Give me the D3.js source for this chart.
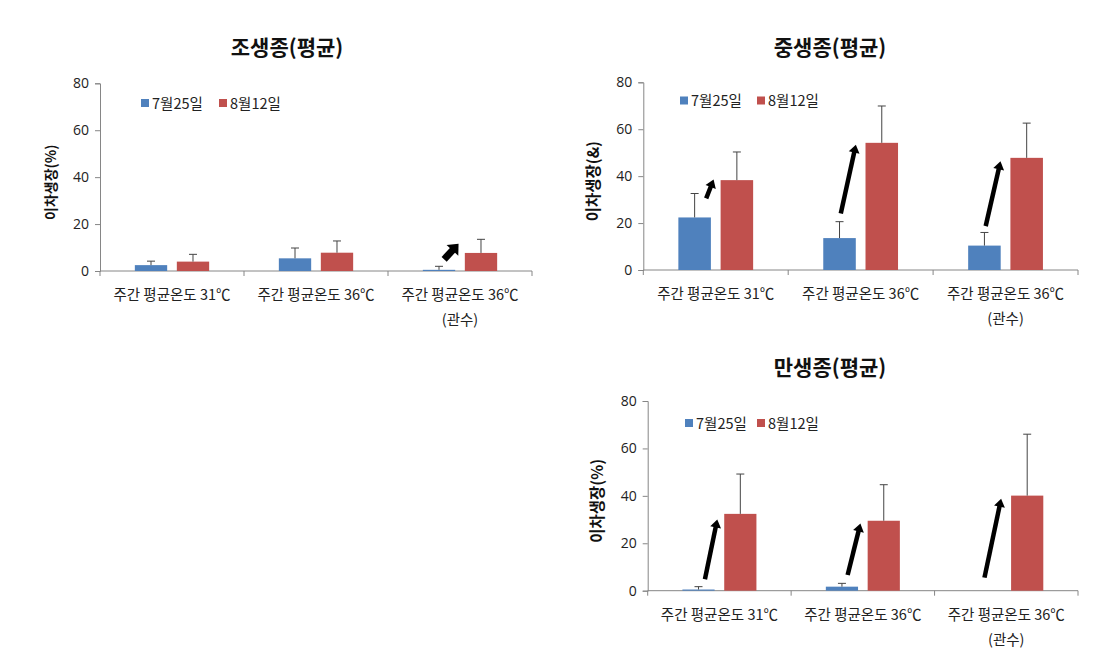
<!DOCTYPE html>
<html><head><meta charset="utf-8">
<script src="https://cdn.jsdelivr.net/npm/d3@7"></script>
<style>
html,body{margin:0;padding:0;background:#fff;}
svg{display:block;font-family:"Noto Sans CJK KR","Noto Sans",sans-serif;}
</style></head>
<body>
<svg id="chart" width="1108" height="664"></svg>
<script>
// ---- data ----
const categories = ["주간 평균온도 31℃", "주간 평균온도 36℃", "주간 평균온도 36℃|(관수)"];
const seriesNames = ["7월25일", "8월12일"];
const yTicks = [0, 20, 40, 60, 80];

const earlyJul = [2.5, 5.4, 0.5];
const earlyJulErr = [1.7, 4.4, 1.5];
const earlyAug = [4.0, 7.8, 7.7];
const earlyAugErr = [3.1, 5.0, 5.8];

const midJul = [22.4, 13.6, 10.4];
const midJulErr = [10.2, 7.0, 5.6];
const midAug = [38.3, 54.2, 47.8];
const midAugErr = [12.0, 15.7, 14.8];

const lateJul = [0.5, 1.7, 0];
const lateJulErr = [1.2, 1.4, 0];
const lateAug = [32.4, 29.5, 40.1];
const lateAugErr = [16.8, 15.2, 25.9];

// arrows: [category index, band fraction from, value from, band fraction to, value to]
const earlyArrows = [[2, 0.39, 5.0, 0.49, 11.6]];
const midArrows = [[0, 0.434, 30.5, 0.485, 38.6], [1, 0.363, 24.1, 0.467, 53.4], [2, 0.363, 18.7, 0.465, 46.3]];
const lateArrows = [[0, 0.399, 4.8, 0.485, 30.0], [1, 0.394, 6.6, 0.483, 28.3], [2, 0.348, 5.5, 0.464, 38.8]];

const colors = ["#4F81BD", "#C0504D"];

const svg = d3.select("#chart");

function drawPanel(cfg) {
  const g = svg.append("g");
  const x = d3.scaleBand().domain(categories).range([cfg.left, cfg.right]).padding(0);
  const xs = d3.scaleBand().domain(seriesNames).range([0, x.bandwidth()]).paddingInner(0.23).paddingOuter(0.83);
  const y = d3.scaleLinear().domain([0, 80]).range([cfg.bottom, cfg.top]);

  // title
  g.append("text").attr("x", cfg.titleX).attr("y", cfg.titleY)
    .attr("text-anchor", "middle").attr("font-size", 21).attr("font-weight", "bold")
    .attr("fill", "#111").text(cfg.title);

  // y axis
  const yAxis = d3.axisLeft(y).tickValues(yTicks).tickSize(5).tickPadding(6);
  const ya = g.append("g").attr("transform", `translate(${cfg.left},0)`).call(yAxis);
  ya.select(".domain").attr("stroke", "#868686");
  ya.selectAll(".tick line").attr("stroke", "#868686");
  ya.selectAll(".tick text").attr("font-size", 14).attr("fill", "#222")
    .attr("font-family", '"Open Sans","Noto Sans",sans-serif');

  // x axis
  const xa = g.append("g").attr("transform", `translate(0,${cfg.bottom})`);
  xa.append("line").attr("x1", cfg.left).attr("x2", cfg.right).attr("y1", 0).attr("y2", 0).attr("stroke", "#868686");
  const bounds = categories.map(c => x(c)).concat([cfg.right]);
  xa.selectAll("line.tk").data(bounds).join("line").attr("class", "tk")
    .attr("x1", d => d).attr("x2", d => d).attr("y1", 0).attr("y2", 5).attr("stroke", "#868686");
  categories.forEach(c => {
    const lines = c.split("|");
    const t = xa.append("text").attr("text-anchor", "middle").attr("font-size", 14.5).attr("fill", "#222");
    lines.forEach((ln, i) => {
      t.append("tspan").attr("x", x(c) + x.bandwidth() / 2).attr("y", 29 + i * 25).text(ln);
    });
  });

  // y label
  g.append("text").attr("transform", `translate(${cfg.ylabX},${(cfg.top + cfg.bottom) / 2 + 5}) rotate(-90)`)
    .attr("text-anchor", "middle").attr("font-size", cfg.ylabSize).attr("font-weight", cfg.ylabWeight)
    .attr("fill", "#111").text(cfg.ylab);

  // bars
  cfg.values.forEach((vals, si) => {
    const sn = seriesNames[si];
    g.selectAll(null).data(vals).join("rect")
      .attr("x", (d, i) => x(categories[i]) + xs(sn))
      .attr("width", xs.bandwidth())
      .attr("y", d => y(d))
      .attr("height", d => y(0) - y(d))
      .attr("fill", colors[si]);
    // error bars
    const errs = cfg.errors[si];
    vals.forEach((v, i) => {
      if (errs[i] <= 0) return;
      const cx = x(categories[i]) + xs(sn) + xs.bandwidth() / 2;
      g.append("line").attr("x1", cx).attr("x2", cx).attr("y1", y(v)).attr("y2", y(v + errs[i]))
        .attr("stroke", "#444").attr("stroke-width", 1);
      g.append("line").attr("x1", cx - 4).attr("x2", cx + 4).attr("y1", y(v + errs[i])).attr("y2", y(v + errs[i]))
        .attr("stroke", "#444").attr("stroke-width", 1);
    });
  });

  // legend
  seriesNames.forEach((sn, i) => {
    const lx = cfg.legX[i];
    g.append("rect").attr("x", lx).attr("y", cfg.legY - 4).attr("width", 8).attr("height", 8).attr("fill", colors[i]);
    g.append("text").attr("x", lx + 11).attr("y", cfg.legY + 5.5).attr("font-size", 14.5).attr("fill", "#222").text(sn);
  });

  // arrows
  cfg.arrows.forEach(a => {
    const c = categories[a[0]];
    const x1 = x(c) + a[1] * x.bandwidth(), y1 = y(a[2]);
    const x2 = x(c) + a[3] * x.bandwidth(), y2 = y(a[4]);
    const dx = x2 - x1, dy = y2 - y1, L = Math.hypot(dx, dy);
    const ux = dx / L, uy = dy / L, px = -uy, py = ux;
    const hl = cfg.headLen, hw = cfg.headW;
    const bx = x2 - ux * hl, by = y2 - uy * hl;
    g.append("line").attr("x1", x1).attr("y1", y1).attr("x2", bx + ux).attr("y2", by + uy)
      .attr("stroke", "#000").attr("stroke-width", cfg.shaftW);
    g.append("path").attr("d", `M${x2},${y2}L${bx + px * hw},${by + py * hw}L${bx - px * hw},${by - py * hw}Z`)
      .attr("fill", "#000");
  });
}

drawPanel({
  title: "조생종(평균)", titleX: 287, titleY: 55,
  left: 100, right: 532, top: 83.3, bottom: 271,
  ylab: "이차생장(%)", ylabX: 56, ylabSize: 14, ylabWeight: "bold",
  values: [earlyJul, earlyAug], errors: [earlyJulErr, earlyAugErr],
  legX: [141, 219], legY: 103,
  arrows: earlyArrows, shaftW: 7, headLen: 9, headW: 8
});
drawPanel({
  title: "중생종(평균)", titleX: 830, titleY: 55,
  left: 643.3, right: 1078, top: 82.3, bottom: 270,
  ylab: "이차생장(&)", ylabX: 599, ylabSize: 15.5, ylabWeight: "bold",
  values: [midJul, midAug], errors: [midJulErr, midAugErr],
  legX: [680, 757], legY: 100.5,
  arrows: midArrows, shaftW: 4.5, headLen: 8, headW: 5.5
});
drawPanel({
  title: "만생종(평균)", titleX: 830, titleY: 375,
  left: 647.7, right: 1078, top: 401, bottom: 590.7,
  ylab: "이차생장(%)", ylabX: 603, ylabSize: 15.5, ylabWeight: "bold",
  values: [lateJul, lateAug], errors: [lateJulErr, lateAugErr],
  legX: [685, 757], legY: 423,
  arrows: lateArrows, shaftW: 4.5, headLen: 8, headW: 5.5
});
</script>
</body></html>
